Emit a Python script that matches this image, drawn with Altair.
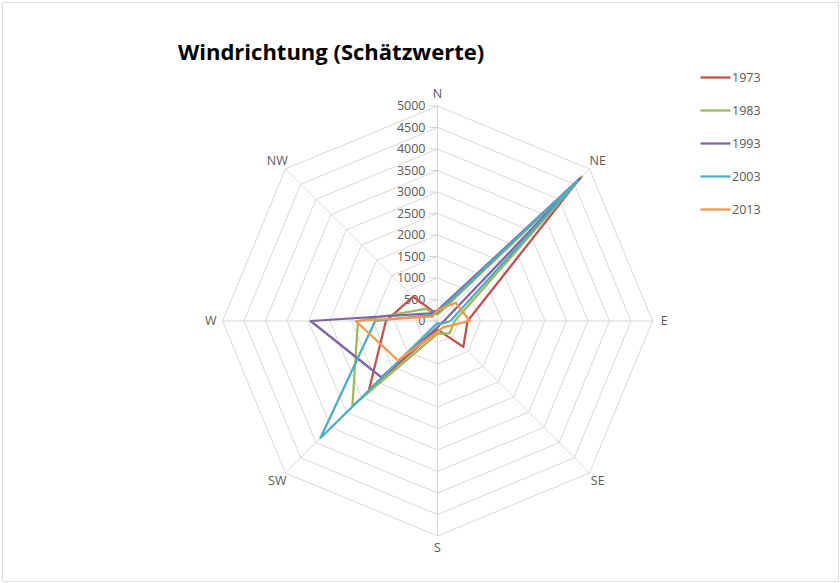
import altair as alt
import pandas as pd

# ---------------- data ----------------
directions = ["N", "NE", "E", "SE", "S", "SW", "W", "NW"]
years = ["1973", "1983", "1993", "2003", "2013"]
v1973 = [150, 4650, 700, 850, 200, 2250, 1200, 800]
v1983 = [150, 4750, 400, 400, 300, 2800, 1850, 400]
v1993 = [250, 4700, 150, 100, 150, 1850, 2950, 250]
v2003 = [200, 4600, 300, 100, 50, 3850, 1450, 200]
v2013 = [250, 600, 750, 200, 250, 1300, 1900, 150]
series_values = [v1973, v1983, v1993, v2003, v2013]
levels = [0, 500, 1000, 1500, 2000, 2500, 3000, 3500, 4000, 4500, 5000]
colors = ["#C0504D", "#9BBB59", "#8064A2", "#4BACC6", "#F79646"]

# ---------------- layout constants ----------------
PAD = 2
W, H = 836, 579
CX, CY = 435.5, 319.0
K = 215.0 / 5000.0
xdom = [-CX / K, (W - CX) / K]
ydom = [-(H - CY) / K, CY / K]
LABEL_R = 5270
FONT = "Open Sans"
FS = 12.5

xs = alt.Scale(domain=xdom, nice=False, zero=False)
ys = alt.Scale(domain=ydom, nice=False, zero=False)

# ---------------- tables ----------------
rows = []
for yr, vals in zip(years, series_values):
    for i in range(9):
        rows.append({"year": yr, "idx": i, "dir": directions[i % 8], "value": vals[i % 8]})
df = pd.DataFrame(rows)

ring_rows = []
for lev in levels[1:]:
    for i in range(9):
        ring_rows.append({"level": lev, "idx": i})
rings = pd.DataFrame(ring_rows)

spokes = pd.DataFrame({"idx": list(range(8)), "dir": directions, "r": [levels[-1]] * 8})
ticks = pd.DataFrame({"level": levels, "label": [str(v) for v in levels]})

# ---------------- layers ----------------
ring_layer = alt.Chart(rings).transform_calculate(
    a="datum.idx * PI / 4",
    x="datum.level * sin(datum.a)",
    y="datum.level * cos(datum.a)",
).mark_line(color="#d9d9d9", strokeWidth=1).encode(
    x=alt.X("x:Q", scale=xs, axis=None),
    y=alt.Y("y:Q", scale=ys, axis=None),
    detail="level:N",
    order="idx:Q",
)

spoke_layer = alt.Chart(spokes).transform_calculate(
    a="datum.idx * PI / 4",
    x2v="datum.r * sin(datum.a)",
    y2v="datum.r * cos(datum.a)",
    zero="0",
).mark_rule(color="#d9d9d9", strokeWidth=1).encode(
    x=alt.X("zero:Q", scale=xs, axis=None),
    y=alt.Y("zero:Q", scale=ys, axis=None),
    x2="x2v:Q",
    y2="y2v:Q",
)

dir_label_layer = alt.Chart(spokes).transform_calculate(
    a="datum.idx * PI / 4",
    x=f"{LABEL_R} * sin(datum.a)",
    y=f"{LABEL_R} * cos(datum.a)",
).mark_text(font=FONT, fontSize=FS, color="#595959", align="center", baseline="middle").encode(
    x=alt.X("x:Q", scale=xs, axis=None),
    y=alt.Y("y:Q", scale=ys, axis=None),
    text="dir:N",
)

tick_mark_layer = alt.Chart(ticks).transform_calculate(zero="0").mark_tick(
    orient="horizontal", size=8, thickness=1, color="#bfbfbf", xOffset=-4
).encode(
    x=alt.X("zero:Q", scale=xs, axis=None),
    y=alt.Y("level:Q", scale=ys, axis=None),
)

tick_label_layer = alt.Chart(ticks).transform_calculate(zero="0").mark_text(
    font=FONT, fontSize=FS, color="#595959", align="right", baseline="middle", dx=-12
).encode(
    x=alt.X("zero:Q", scale=xs, axis=None),
    y=alt.Y("level:Q", scale=ys, axis=None),
    text="label:N",
)

series_layer = alt.Chart(df).transform_calculate(
    a="datum.idx * PI / 4",
    x="datum.value * sin(datum.a)",
    y="datum.value * cos(datum.a)",
).mark_line(strokeWidth=2.25, strokeJoin="round").encode(
    x=alt.X("x:Q", scale=xs, axis=None),
    y=alt.Y("y:Q", scale=ys, axis=None),
    color=alt.Color(
        "year:N",
        scale=alt.Scale(domain=years, range=colors),
        legend=alt.Legend(
            title=None,
            orient="none",
            legendX=697,
            legendY=59,
            symbolType="stroke",
            symbolSize=900,
            symbolStrokeWidth=2.25,
            labelFont=FONT,
            labelFontSize=FS,
            labelColor="#595959",
            labelOffset=0,
            rowPadding=10,
            padding=0,
        ),
    ),
    order="idx:Q",
)

title_layer = alt.Chart(pd.DataFrame({"t": ["Windrichtung (Schätzwerte)"]})).mark_text(
    font="Open Sans", fontSize=22, fontWeight="bold", color="#000000", align="left", baseline="middle"
).encode(
    x=alt.value(176),
    y=alt.value(51),
    text="t:N",
)

chart = alt.layer(
    ring_layer, spoke_layer, tick_mark_layer, tick_label_layer, dir_label_layer, series_layer, title_layer
).properties(
    width=W, height=H, padding=PAD, autosize=alt.AutoSizeParams(type="none")
).configure_view(stroke="#c8c8c8", strokeWidth=1).configure(background="white")

chart.save("out.html", embed_options={"renderer": "svg", "actions": False})
